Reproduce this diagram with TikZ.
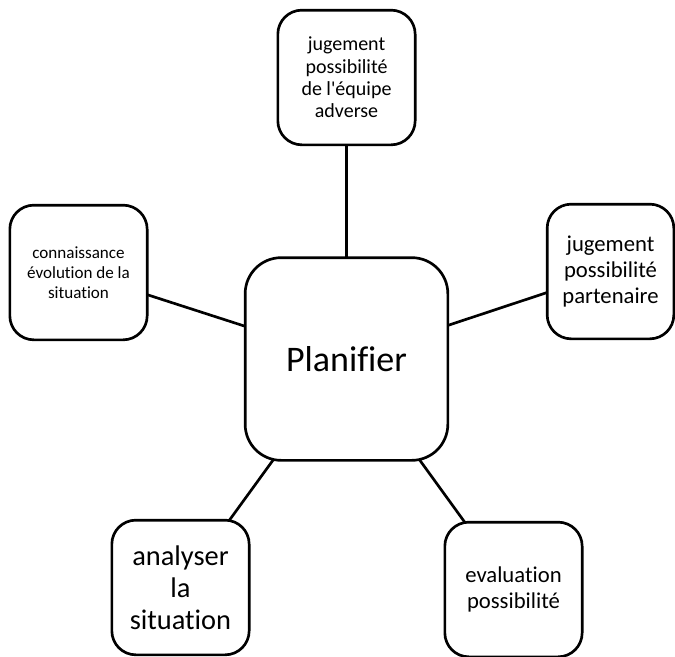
\documentclass[tikz,border=0pt]{standalone}
\usepackage{fontspec}
\setmainfont{Carlito}[Ligatures={NoCommon}]
\usetikzlibrary{backgrounds}
\tikzset{
  box/.style={draw,line width=2pt,rounded corners=18pt,fill=white,
              align=center,inner sep=2pt},
  hub/.style={box,rounded corners=27pt,minimum width=152pt,
              minimum height=152pt,font=\fontsize{27}{32}\selectfont},
  leaf/.style={box,minimum width=103pt,minimum height=101pt},
  link/.style={line width=2pt},
}

\begin{document}
\begin{tikzpicture}[x=0.75pt, y=-0.75pt]
  \useasboundingbox (0,0) rectangle (675,657);
  \node[hub] (plan) at (346.5,359) {Planifier};
  \node[leaf,font=\fontsize{15}{16.8}\selectfont] (adv) at (346.5,77.5)
       {jugement\\possibilité\\de l\textquotesingle équipe\\adverse};
  \node[leaf,minimum width=95pt,font=\fontsize{17}{19.5}\selectfont] (part) at (610.5,271.5)
       {jugement\\possibilité\\partenaire};
  \node[leaf,font=\fontsize{12.8}{15}\selectfont] (conn) at (78.5,272.5)
       {connaissance\\évolution de la\\situation};
  \node[leaf,font=\fontsize{21.3}{24}\selectfont] (anal) at (180.5,587.5)
       {analyser\\la\\situation};
  \node[leaf,font=\fontsize{17}{20}\selectfont] (eval) at (513.5,589.5)
       {evaluation\\possibilité};
  \begin{scope}[on background layer]
    \draw[link] (plan.center) -- (adv.center);
    \draw[link] (plan.center) -- (part.center);
    \draw[link] (plan.center) -- (conn.center);
    \draw[link] (plan.center) -- (anal.center);
    \draw[link] (plan.center) -- (eval.center);
  \end{scope}
\end{tikzpicture}
\end{document}
